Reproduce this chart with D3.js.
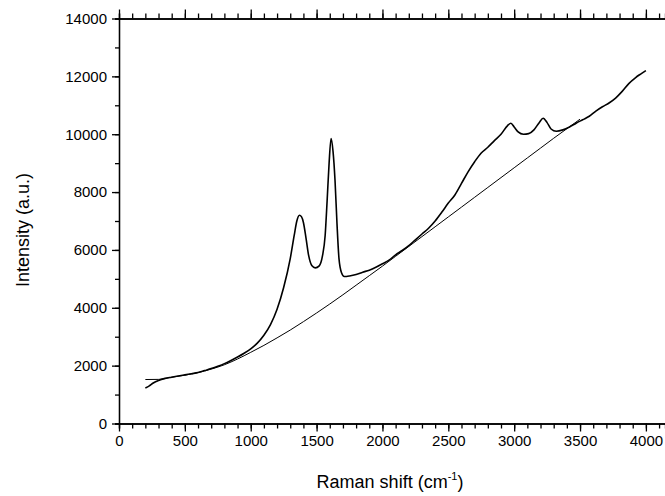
<!DOCTYPE html>
<html><head><meta charset="utf-8">
<script src="https://cdn.jsdelivr.net/npm/d3@7"></script>
<style>
body{margin:0;background:#fff;}
text{font-family:"Liberation Sans",Arial,sans-serif;}
</style></head>
<body><svg id="c" width="665" height="496"></svg>
<script>
const ramanShift = [200,230,260,300,350,400,450,500,550,600,650,700,750,800,850,900,950,1000,1050,1100,1150,1200,1250,1300,1330,1350,1370,1385,1400,1420,1440,1465,1490,1520,1545,1565,1580,1595,1610,1625,1640,1655,1670,1690,1710,1750,1800,1850,1900,1950,2000,2050,2100,2150,2200,2250,2300,2350,2400,2450,2500,2550,2600,2650,2700,2750,2800,2850,2900,2950,2975,3000,3030,3070,3110,3150,3190,3220,3250,3280,3320,3370,3420,3470,3520,3570,3620,3670,3720,3770,3820,3870,3920,3960,4000];
const intensity = [1230,1300,1400,1490,1560,1600,1640,1680,1720,1760,1830,1900,1980,2070,2180,2300,2430,2580,2780,3050,3420,3950,4700,5700,6500,7000,7200,7150,6950,6400,5800,5450,5380,5450,5800,6500,7700,9000,9850,9400,8400,6900,5700,5200,5080,5100,5150,5230,5300,5400,5520,5650,5830,5980,6150,6350,6550,6750,7000,7300,7620,7900,8300,8700,9050,9350,9550,9780,10000,10300,10380,10250,10080,10000,10020,10150,10400,10550,10400,10180,10100,10150,10250,10380,10500,10620,10800,10950,11080,11250,11480,11750,11950,12080,12200];
const baselineShift = [200,300,400,500,600,700,800,900,1000,1100,1200,1300,1400,1500,1600,1700,1800,1900,2000,2100,2200,2300,2400,2500,2600,2700,2800,2900,3000,3100,3200,3300,3400,3500];
const baselineIntensity = [1520,1525,1600,1670,1760,1880,2030,2230,2460,2700,2960,3230,3520,3820,4130,4450,4780,5110,5440,5780,6120,6460,6800,7140,7480,7820,8160,8500,8840,9180,9520,9860,10190,10520];
const xMajorTicks = [0,500,1000,1500,2000,2500,3000,3500,4000];
const yMajorTicks = [0,2000,4000,6000,8000,10000,12000,14000];
const xTitle = "Raman shift (cm";
const yTitle = "Intensity (a.u.)";

const svg = d3.select("#c");
const x = d3.scaleLinear().domain([0,4145]).range([119,665]);
const y = d3.scaleLinear().domain([0,14000]).range([423.5,18.5]);

const xMinor = d3.range(0,4145,100);
const yMinor = d3.range(0,14001,1000);

function styleAxis(g){
  g.selectAll("path").attr("stroke","#000").attr("stroke-width",1.3);
  g.selectAll("line").attr("stroke","#000").attr("stroke-width",1.3);
  g.selectAll("text").attr("font-size",15).attr("fill","#000");
}

// bottom
svg.append("g").attr("transform","translate(0,423.5)")
  .call(d3.axisBottom(x).tickValues(xMinor).tickSize(5).tickFormat(""))
  .call(styleAxis);
svg.append("g").attr("transform","translate(0,423.5)")
  .call(d3.axisBottom(x).tickValues(xMajorTicks).tickSize(8).tickSizeOuter(0).tickPadding(4).tickFormat(d3.format("d")))
  .call(styleAxis);
// top
svg.append("g").attr("transform","translate(0,18.5)")
  .call(d3.axisTop(x).tickValues(xMinor).tickSize(5).tickFormat(""))
  .call(styleAxis);
svg.append("g").attr("transform","translate(0,18.5)")
  .call(d3.axisTop(x).tickValues(xMajorTicks).tickSize(9).tickSizeOuter(0).tickFormat(""))
  .call(styleAxis);
// left
svg.append("g").attr("transform","translate(119,0)")
  .call(d3.axisLeft(y).tickValues(yMinor).tickSize(4).tickFormat(""))
  .call(styleAxis);
svg.append("g").attr("transform","translate(119,0)")
  .call(d3.axisLeft(y).tickValues(yMajorTicks).tickSize(7).tickSizeOuter(0).tickPadding(5).tickFormat(d3.format("d")))
  .call(styleAxis);

const line = d3.line().x((d)=>x(d[0])).y((d)=>y(d[1])).curve(d3.curveMonotoneX);
svg.append("path").datum(baselineShift.map((v,i)=>[v,baselineIntensity[i]]))
  .attr("d",line).attr("fill","none").attr("stroke","#000").attr("stroke-width",1);
svg.append("path").datum(ramanShift.map((v,i)=>[v,intensity[i]]))
  .attr("d",line).attr("fill","none").attr("stroke","#000").attr("stroke-width",1.6).attr("stroke-linejoin","round");

const xt = svg.append("text").attr("x",390).attr("y",488).attr("text-anchor","middle").attr("font-size",18).attr("fill","#000");
xt.append("tspan").text(xTitle);
xt.append("tspan").attr("font-size",11).attr("dy",-8).text("-1");
xt.append("tspan").attr("dy",8).text(")");

svg.append("text").attr("transform","translate(29,230) rotate(-90)").attr("text-anchor","middle")
  .attr("font-size",18).attr("fill","#000").text(yTitle);
</script></body></html>
